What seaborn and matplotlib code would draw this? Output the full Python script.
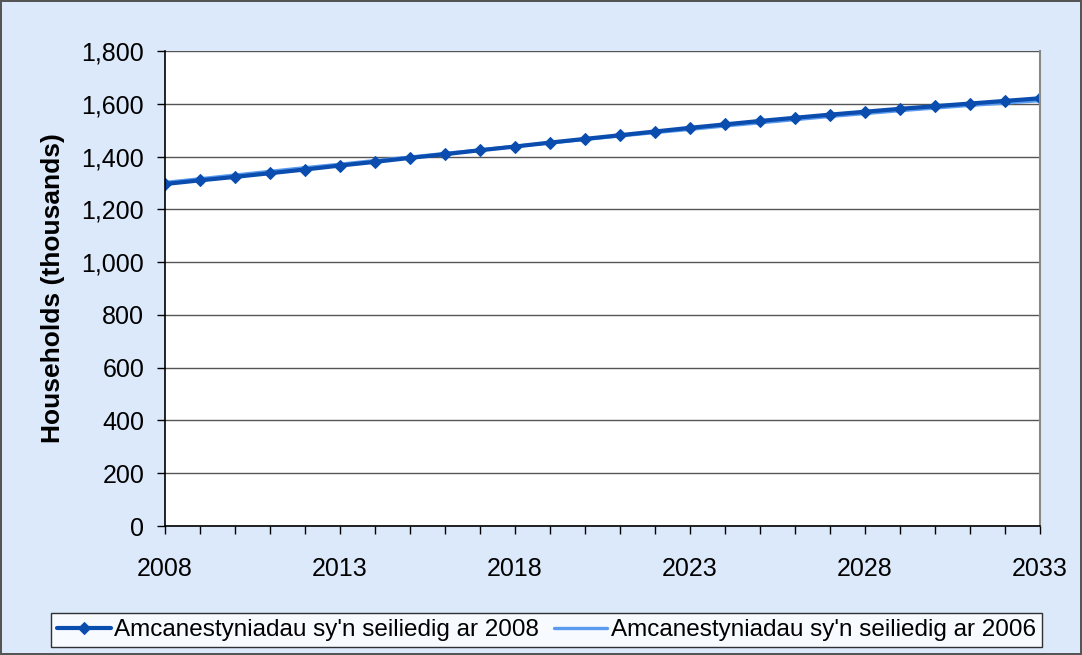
import pandas as pd
import numpy as np
import matplotlib.pyplot as plt
import seaborn as sns
from matplotlib.ticker import FuncFormatter, MultipleLocator

# data (thousands of households)
years = list(range(2008, 2034))
proj_2008 = [1296, 1310, 1323, 1337, 1351, 1366, 1380, 1395, 1409, 1424,
             1438, 1453, 1467, 1481, 1495, 1509, 1522, 1535, 1547, 1559,
             1570, 1581, 1591, 1601, 1611, 1621]
proj_2006 = [1302, 1316, 1330, 1344, 1358, 1371, 1385, 1398, 1412, 1425,
             1439, 1452, 1465, 1478, 1491, 1503, 1516, 1528, 1540, 1552,
             1563, 1574, 1584, 1594, 1603, 1612]
label_2008 = "Amcanestyniadau sy'n seiliedig ar 2008"
label_2006 = "Amcanestyniadau sy'n seiliedig ar 2006"

df = pd.DataFrame({'year': years, 'p2008': proj_2008, 'p2006': proj_2006})

sns.set_theme(style="white")
plt.rcParams['font.family'] = ['Liberation Sans', 'DejaVu Sans']
plt.rcParams['text.color'] = 'black'

fig = plt.figure(figsize=(10.82, 6.55), dpi=100, facecolor='#DCE9FB',
                 edgecolor='#555555', linewidth=1.5)
ax = fig.add_axes([0.1525, 0.1969, 0.8087, 0.7252])
ax.set_facecolor('white')

sns.lineplot(data=df, x='year', y='p2006', ax=ax, color='#5B9BEF', linewidth=2.4,
             label=label_2006)
sns.lineplot(data=df, x='year', y='p2008', ax=ax, color='#0A4DAE', linewidth=3,
             marker='D', markersize=6.5, markeredgecolor='#0A4DAE', label=label_2008)

ax.set_xlim(2008, 2033)
ax.set_ylim(0, 1800)
ax.yaxis.set_major_locator(MultipleLocator(200))
ax.yaxis.set_major_formatter(FuncFormatter(lambda v, p: f"{int(v):,}"))
ax.set_xticks(years)
ax.set_xticklabels([str(y) if (y - 2008) % 5 == 0 else '' for y in years])
ax.grid(axis='y', color='#555555', linewidth=1)
ax.tick_params(axis='both', direction='out', length=6, width=1, color='black',
               labelsize=18, labelcolor='black', bottom=True, left=True)
ax.tick_params(axis='x', pad=16)
ax.tick_params(axis='y', pad=9)
ax.set_xlabel('')
ax.set_ylabel('Households (thousands)', fontsize=19, fontweight='bold',
              color='black', labelpad=12)

for s in ['left', 'bottom']:
    ax.spines[s].set_color('black')
    ax.spines[s].set_linewidth(1.2)
ax.spines['top'].set_visible(False)
ax.spines['right'].set_color('#888888')
ax.spines['right'].set_linewidth(1.5)

handles, labels = ax.get_legend_handles_labels()
order = [labels.index(label_2008), labels.index(label_2006)]
ax.get_legend().remove()
leg = fig.legend([handles[i] for i in order], [labels[i] for i in order],
                 loc='center', bbox_to_anchor=(0.505, 0.038), ncol=2,
                 fontsize=17.5, frameon=True, fancybox=False, edgecolor='black',
                 borderpad=0.25, handlelength=2.2, columnspacing=0.6, handletextpad=0.15,
                 borderaxespad=0)
leg.get_frame().set_linewidth(1)

fig.savefig('out.png', dpi=100, facecolor=fig.get_facecolor(), edgecolor=fig.get_edgecolor())
